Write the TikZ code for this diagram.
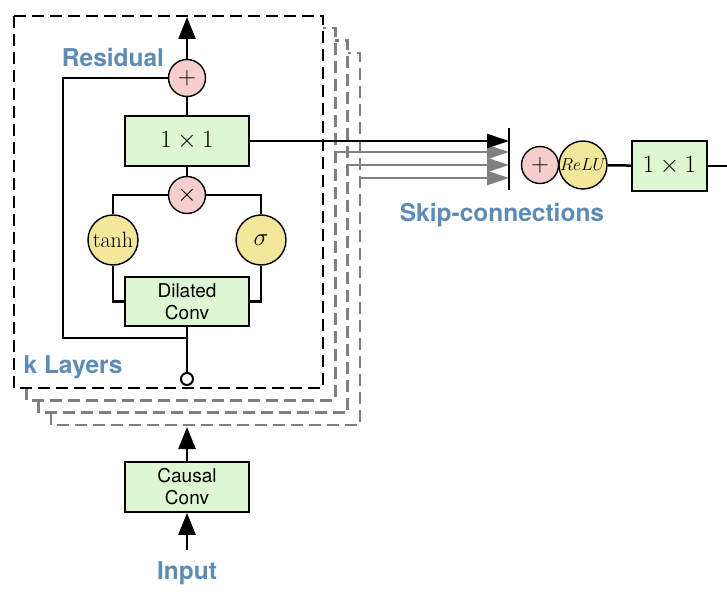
\documentclass[tikz,border=0pt]{standalone}
\usepackage{fontspec}
\newfontfamily\hv{TeX Gyre Heros}
\usetikzlibrary{arrows.meta}
\definecolor{gfill}{RGB}{222,246,210}
\definecolor{pfill}{RGB}{247,206,206}
\definecolor{yfill}{RGB}{243,231,155}
\definecolor{lblue}{RGB}{94,139,180}
\definecolor{dgray}{RGB}{128,128,128}
\begin{document}
\begin{tikzpicture}[x=1pt,y=-1pt,
  box/.style={draw=black, line width=1.7pt, fill=gfill, minimum width=124pt, minimum height=50pt, inner sep=0pt, align=center, font=\hv\fontsize{19}{22}\selectfont},
  op/.style={circle, draw, line width=1.4pt, fill=pfill, minimum size=37pt, inner sep=0pt, font=\fontsize{29}{32}\selectfont},
  act/.style={circle, draw, line width=1.4pt, fill=yfill, minimum size=50pt, inner sep=0pt},
  lbl/.style={text=lblue, font=\hv\bfseries\fontsize{24.5}{28}\selectfont, inner sep=0pt},
  conn/.style={line width=2.5pt},
  tip/.style={-{Triangle[length=22pt,width=17pt]}},
  stip/.style={-{Triangle[length=22pt,width=14pt]}},
  dbox/.style={dash pattern=on 12pt off 6pt, line width=2.6pt}]
\useasboundingbox (0,0) rectangle (727,609);

% stacked layer frames
\foreach \i in {3,2,1}{
  \draw[dbox, draw=dgray, line width=2.4pt, fill=white] (14+12.3*\i,16+12.3*\i) rectangle (323+12.3*\i,388+12.3*\i);
}
\draw[dbox, fill=white] (14,16) rectangle (323,388);

% nodes
\node[op] (plus) at (187,78) {$+$};
\node[box, font=\fontsize{25}{28}\selectfont] (conv1) at (187,141) {$1\times1$};
\node[op] (times) at (187,195) {$\times$};
\node[act, font=\fontsize{22}{25}\selectfont] (tanh) at (113,240) {$\tanh$};
\node[act, font=\fontsize{30}{32}\selectfont] (sig) at (261,240) {$\sigma$};
\node[box, minimum height=49pt] (dil) at (187,301.5) {Dilated\\Conv};
\node[circle, draw, line width=2pt, fill=white, minimum size=12pt, inner sep=0pt] (inp) at (187,379) {};
\node[box] (causal) at (187,487) {Causal\\Conv};

\node[lbl] (res) at (113,57) {Residual};
\node[lbl] (kl) at (73,367) {k Layers};
\node[lbl] (input) at (187,573) {Input};
\node[lbl] (skip) at (502,215) {Skip-connections};

\node[op] (plus2) at (540,165) {$+$};
\node[act, minimum size=48pt, font=\fontsize{17}{20}\selectfont] (relu) at (583,165) {$ReLU$};
\node[box, minimum width=75pt, font=\fontsize{25}{28}\selectfont] (conv2) at (669.5,166) {$1\times1$};

% coordinates
\coordinate (top) at (187,17);
\coordinate (rl) at (63,338);
\coordinate (rj) at (187,338);
\coordinate (ctop) at (187,427);
\coordinate (cbot) at (187,550);
\coordinate (bt) at (509,128);
\coordinate (bb) at (509,190);
\coordinate (g1) at (335,152);
\coordinate (g2) at (347.5,165);
\coordinate (g3) at (360,178);
\coordinate (out) at (727,166);

% connections
\draw[conn, tip] (plus.north) -- (top);
\draw[conn] (conv1) -- (plus);
\draw[conn] (times) -- (conv1);
\draw[conn] (times.west) -| (tanh.north);
\draw[conn] (times.east) -| (sig.north);
\draw[conn] (tanh.south) |- (dil.west);
\draw[conn] (sig.south) |- (dil.east);
\draw[conn] (dil.south) -- (inp.north);
\draw[conn] (plus.west) -| (rl) -- (rj);
\draw[conn, tip] (causal.north) -- (ctop);
\draw[conn, tip] (cbot) -- (causal.south);

\draw[conn, dgray, stip] (g1) -- (g1 -| bt);
\draw[conn, dgray, stip] (g2) -- (g2 -| bt);
\draw[conn, dgray, stip] (g3) -- (g3 -| bt);
\draw[conn, stip] (conv1.east) -- (conv1.east -| bt);
\draw[line width=2.6pt] (bt) -- (bb);

\draw[conn] (relu) -- (conv2);
\draw[conn] (conv2) -- (out);
\end{tikzpicture}
\end{document}
